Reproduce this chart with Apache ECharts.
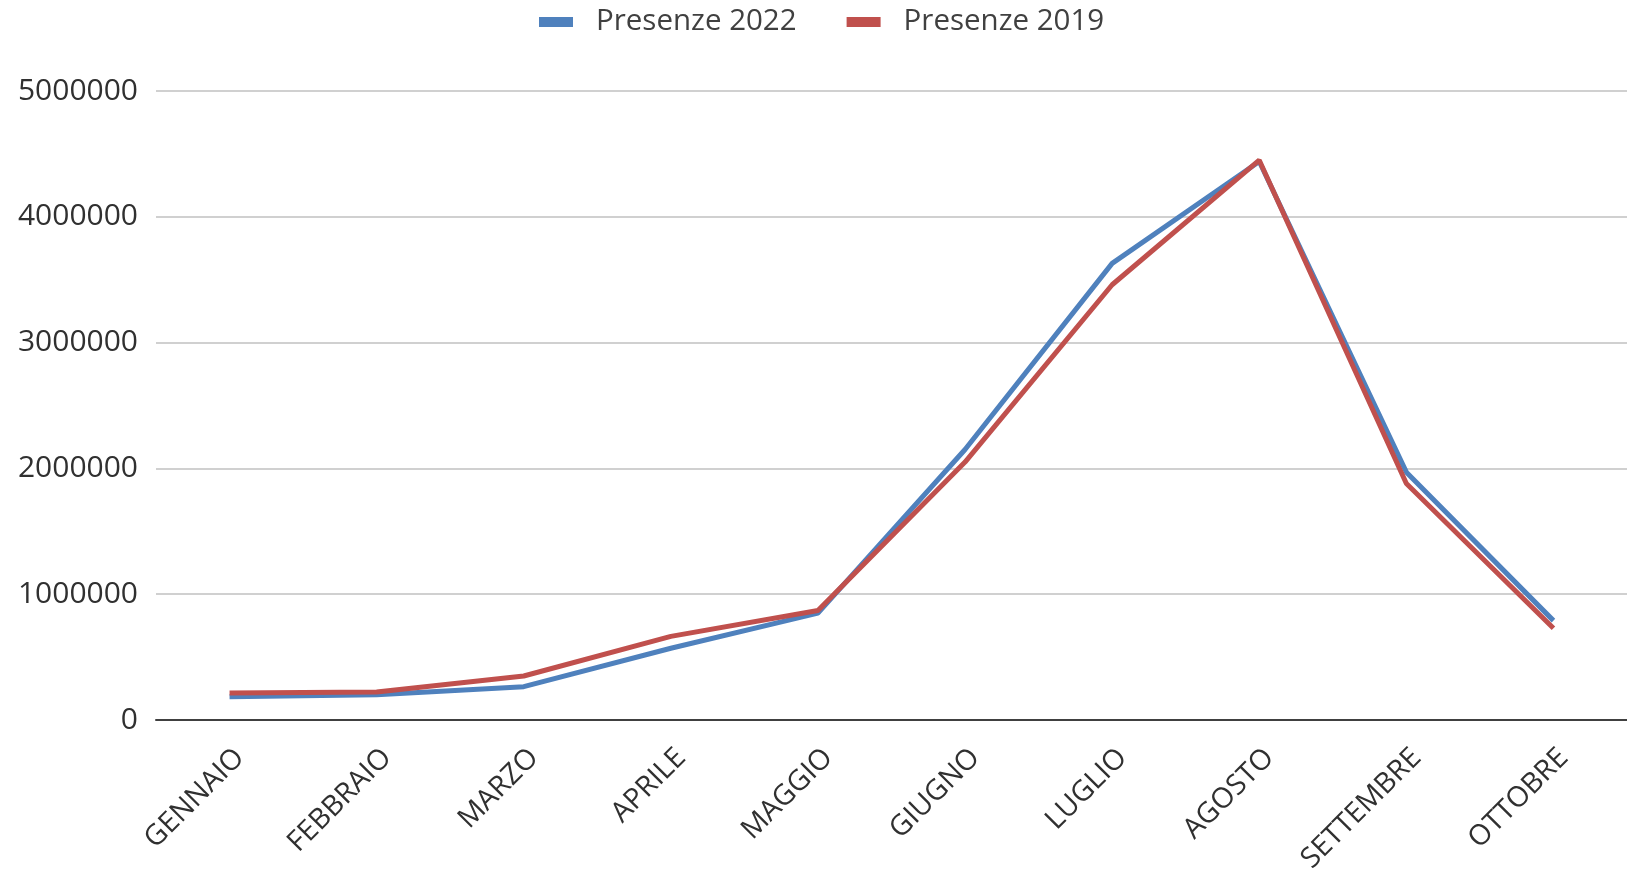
<!DOCTYPE html>
<html>
<head>
<meta charset="utf-8">
<script src="https://cdn.jsdelivr.net/npm/echarts@6/dist/echarts.min.js"></script>
<style>
html,body{margin:0;padding:0;background:#fff;}
#chart{width:1627px;height:873px;}
</style>
</head>
<body>
<div id="chart"></div>
<script>
var categories = ['GENNAIO','FEBBRAIO','MARZO','APRILE','MAGGIO','GIUGNO','LUGLIO','AGOSTO','SETTEMBRE','OTTOBRE'];
var presenze2022 = [185000, 200000, 265000, 570000, 850000, 2150000, 3630000, 4440000, 1970000, 790000];
var presenze2019 = [215000, 222000, 350000, 665000, 870000, 2050000, 3460000, 4450000, 1880000, 730000];
var seriesNames = ['Presenze 2022', 'Presenze 2019'];
var yTicks = { min: 0, max: 5000000, interval: 1000000 };

var font = 'Open Sans';
var chart = echarts.init(document.getElementById('chart'));
chart.setOption({
  backgroundColor: '#fff',
  animation: false,
  textStyle: { fontFamily: font },
  legend: {
    top: 2,
    left: 534,
    itemWidth: 34,
    itemHeight: 10,
    itemGap: 50,
    icon: 'rect',
    textStyle: { fontFamily: font, fontSize: 29.5, color: '#404040', padding: [0, 0, 0, 18] },
    data: seriesNames
  },
  grid: { left: 156, right: 0, top: 91, bottom: 153, outerBoundsMode: 'none' },
  xAxis: {
    type: 'category',
    data: categories,
    boundaryGap: true,
    axisLine: { lineStyle: { color: '#404040', width: 2 } },
    axisTick: { show: false },
    axisLabel: { rotate: 45, fontFamily: font, fontSize: 28.5, color: '#303030', margin: 23,
      verticalAlign: 'top', interval: 0 }
  },
  yAxis: {
    type: 'value',
    min: yTicks.min, max: yTicks.max, interval: yTicks.interval,
    axisLine: { show: false },
    axisTick: { show: false },
    splitLine: { lineStyle: { color: '#d0d0d0', width: 2 } },
    axisLabel: { fontFamily: font, fontSize: 30, color: '#303030', margin: 18,
      formatter: function (v) { return String(v); } }
  },
  series: [
    { name: seriesNames[0], type: 'line', data: presenze2022, symbol: 'none',
      itemStyle: { color: '#4F81BD' }, lineStyle: { width: 5, color: '#4F81BD' } },
    { name: seriesNames[1], type: 'line', data: presenze2019, symbol: 'none',
      itemStyle: { color: '#C0504D' }, lineStyle: { width: 5, color: '#C0504D' } }
  ]
});
</script>
</body>
</html>
